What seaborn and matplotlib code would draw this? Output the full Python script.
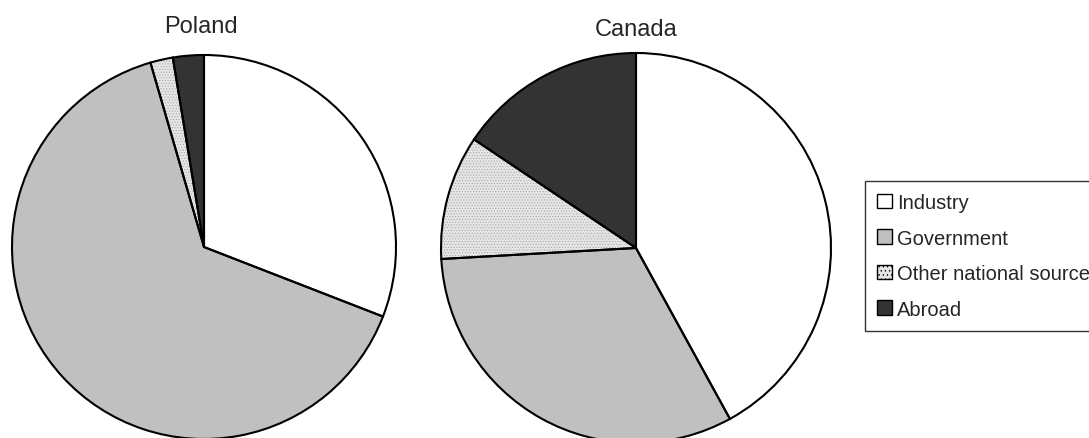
import matplotlib
matplotlib.use("Agg")
import matplotlib.pyplot as plt
import seaborn as sns
from matplotlib.patches import Patch

sns.set_theme(style="white")
plt.rcParams['font.family'] = ['Liberation Sans', 'DejaVu Sans']
plt.rcParams['hatch.linewidth'] = 0.5

# data (percent of funding by source)
sources = ['Industry', 'Government', 'Other national sources', 'Abroad']
poland = [30.9, 64.6, 1.9, 2.6]
canada = [42.0, 32.1, 10.3, 15.6]
countries = ['Poland', 'Canada']

colors = ['#ffffff', '#c0c0c0', '#e6e6e6', '#333333']
hatches = [None, None, '......', None]

W, H = 1089, 439
fig = plt.figure(figsize=(W / 100, H / 100), dpi=100)


def draw_pie(values, cx, cy, r, title, tx, ty):
    ax = fig.add_axes([(cx - r) / W, (H - cy - r) / H, 2 * r / W, 2 * r / H])
    # fill + fine dotted hatch in grey
    wedges, _ = ax.pie(values, colors=colors, startangle=90, counterclock=False,
                       wedgeprops=dict(linewidth=0, edgecolor='#a8a8a8'))
    for w, h in zip(wedges, hatches):
        if h:
            w.set_hatch(h)
    # black outlines on top
    ax.pie(values, colors=['none'] * 4, startangle=90, counterclock=False,
           wedgeprops=dict(linewidth=1.5, edgecolor='black', fill=False))
    ax.set_xlim(-1, 1)
    ax.set_ylim(-1, 1)
    ax.set_axis_off()
    fig.text(tx / W, 1 - ty / H, title, ha='center', va='center', fontsize=17)


draw_pie(poland, 204, 248, 192, countries[0], 201, 27)
draw_pie(canada, 636, 249, 195, countries[1], 636, 30)

handles = [Patch(facecolor=c, edgecolor='black', hatch=h, linewidth=1)
           for c, h in zip(colors, ['', '', '....', ''])]
leg = fig.legend(handles, sources, loc='upper left',
                 bbox_to_anchor=(865 / W, 1 - 182 / H), borderaxespad=0,
                 frameon=True, fancybox=False, fontsize=14.5,
                 handlelength=0.75, handleheight=0.75, handletextpad=0.25,
                 labelspacing=0.82, borderpad=0.6)
leg.get_frame().set_edgecolor('black')
leg.get_frame().set_linewidth(1)

fig.savefig('out.png', dpi=100)
